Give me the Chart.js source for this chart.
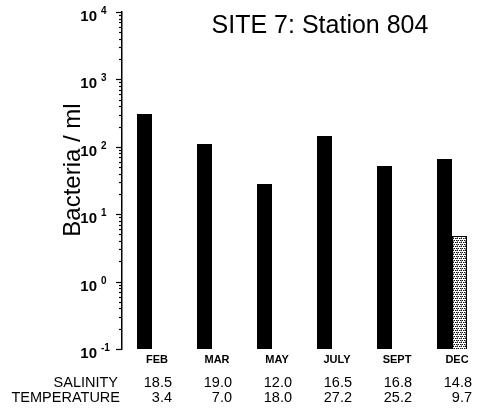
<!DOCTYPE html>
<html>
    <head>
        <title>Site 7 bacteria</title>
        <meta charset="UTF-8">
        <style>
          body { margin: 0; background: #fff; }
        </style>
    </head>
    <body>
        <canvas id="barChart" width="482" height="411"></canvas>
        <script src="https://cdn.jsdelivr.net/npm/chart.js/dist/chart.umd.min.js"></script>

        <script>
          //****************************** data ******************************//
          const months = ['FEB', 'MAR', 'MAY', 'JULY', 'SEPT', 'DEC'];
          const bacteria = [307, 110, 28, 145, 52, 66];            // black bars
          const bacteriaDotted = [null, null, null, null, null, 4.75]; // stippled bar (DEC only)
          const salinity = ['18.5', '19.0', '12.0', '16.5', '16.8', '14.8'];
          const temperature = ['3.4', '7.0', '18.0', '27.2', '25.2', '9.7'];
          const yDecades = [0.1, 1, 10, 100, 1000, 10000];
          const yExponents = ['-1', '0', '1', '2', '3', '4'];

          //small stipple pattern for the second bar
          function stipple(){
            const c = document.createElement('canvas');
            c.width = 4; c.height = 4;
            const g = c.getContext('2d');
            g.fillStyle = '#fff';
            g.fillRect(0, 0, 4, 4);
            g.fillStyle = '#111';
            g.fillRect(0, 0, 1, 1);
            g.fillRect(2, 0, 1, 1);
            g.fillRect(1, 2, 1, 1);
            g.fillRect(3, 2, 1, 1);
            g.fillStyle = '#888';
            g.fillRect(1, 0, 1, 1);
            g.fillRect(0, 2, 1, 1);
            g.fillRect(1, 1, 1, 1);
            return document.getElementById('barChart').getContext('2d').createPattern(c, 'repeat');
          }

          //draws axis ticks, labels, titles and the table underneath
          const decorations = {
            id: 'decorations',
            afterDraw(chart){
              const ctx = chart.ctx;
              const y = chart.scales.y;
              const x = chart.scales.x;
              const axisX = chart.chartArea.left;
              ctx.save();
              ctx.strokeStyle = '#000';
              ctx.lineWidth = 1.2;
              y.ticks.forEach(t => {
                const py = Math.round(y.getPixelForValue(t.value)) + 0.5;
                const len = t.major ? 6 : 3;
                ctx.beginPath();
                ctx.moveTo(axisX - len, py);
                ctx.lineTo(axisX, py);
                ctx.stroke();
              });

              ctx.fillStyle = '#000';
              yDecades.forEach((v, i) => {
                const py = y.getPixelForValue(v);
                ctx.font = 'bold 15px Arial, "Liberation Sans"';
                ctx.textAlign = 'right';
                ctx.textBaseline = 'alphabetic';
                ctx.fillText('10', 97, py + 9);
                ctx.font = 'bold 10px Arial, "Liberation Sans"';
                ctx.textAlign = 'left';
                ctx.fillText(yExponents[i], 101, py + 2);
              });

              //y axis title
              ctx.save();
              ctx.translate(80, 170);
              ctx.rotate(-Math.PI / 2);
              ctx.font = '24px Arial, "Liberation Sans"';
              ctx.textAlign = 'center';
              ctx.textBaseline = 'alphabetic';
              ctx.fillText('Bacteria / ml', 0, 0);
              ctx.restore();

              //chart title
              ctx.font = '25px Arial, "Liberation Sans"';
              ctx.textAlign = 'center';
              ctx.textBaseline = 'alphabetic';
              ctx.fillText('SITE 7: Station 804', 320, 33);

              //salinity / temperature table
              ctx.font = '14.5px Arial, "Liberation Sans"';
              ctx.textBaseline = 'middle';
              ctx.textAlign = 'right';
              ctx.fillText('SALINITY', 118, 383);
              ctx.fillText('TEMPERATURE', 120, 398);
              months.forEach((m, i) => {
                const px = x.getPixelForValue(i) + 20;
                ctx.fillText(salinity[i], px, 383);
                ctx.fillText(temperature[i], px, 398);
              });
              ctx.restore();
            }
          };

          const CHART = document.getElementById('barChart');
          let barChart = new Chart(CHART, {
            type: 'bar',
            data: {
              labels: months,
              datasets: [
                {
                  label: 'Bacteria',
                  data: bacteria,
                  backgroundColor: '#000',
                  borderWidth: 0
                },
                {
                  label: 'Bacteria (stippled)',
                  data: bacteriaDotted,
                  backgroundColor: stipple(),
                  borderColor: '#000',
                  borderWidth: 1
                }
              ]
            },
            options: {
              responsive: false,
              animation: false,
              layout: { padding: { left: 0, right: 0, top: 12, bottom: 42 } },
              datasets: { bar: { categoryPercentage: 0.5, barPercentage: 1.0 } },
              plugins: {
                legend: { display: false },
                tooltip: { enabled: false }
              },
              scales: {
                x: {
                  grid: { display: false },
                  border: { display: false },
                  ticks: {
                    color: '#000',
                    font: { family: 'Arial, "Liberation Sans"', size: 11, weight: 'bold' },
                    padding: -4,
                    labelOffset: 5,
                    maxRotation: 0
                  },
                  afterFit: s => { s.height = 20; }
                },
                y: {
                  type: 'logarithmic',
                  min: 0.1,
                  max: 10000,
                  grid: { display: false },
                  border: { display: true, color: '#000', width: 1.5 },
                  ticks: { display: false },
                  afterBuildTicks: s => {
                    const ticks = [];
                    yDecades.forEach((d, i) => {
                      ticks.push({ value: d, major: true });
                      if (i < yDecades.length - 1) {
                        for (let k = 2; k <= 9; k++) ticks.push({ value: d * k, major: false });
                      }
                    });
                    s.ticks = ticks;
                  },
                  afterFit: s => { s.width = 122; }
                }
              }
            },
            plugins: [decorations]
          });
        </script>
    </body>
</html>
